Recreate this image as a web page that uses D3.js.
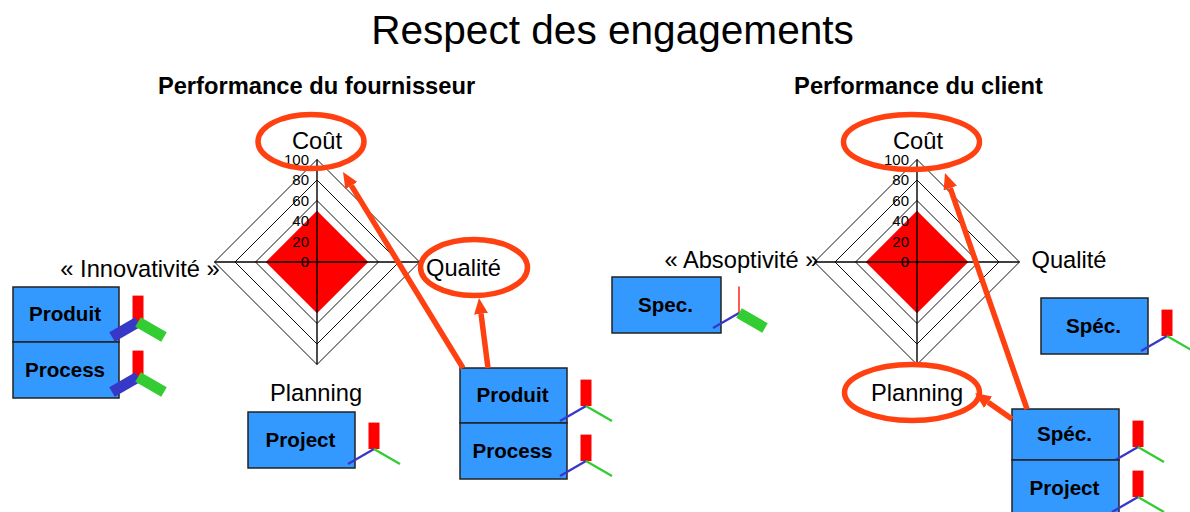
<!DOCTYPE html>
<html>
<head>
    <meta charset="utf-8">
    <title>Respect des engagements</title>
    <style>
        html, body { margin: 0; padding: 0; background: #fff; overflow: hidden; }
        text { font-family: "Liberation Sans", Arial, sans-serif; fill: #000; }
    </style>
    <script src="https://d3js.org/d3.v7.min.js"></script>
</head>
<body>
<svg id="chart" width="1190" height="512"></svg>
<script>
    // data
    var radarTicks = [0, 20, 40, 60, 80, 100];
    var radarAxes = ["Coût", "Qualité", "Planning", "Innovation"];
    var fournisseurValues = [50, 50, 50, 50];
    var clientValues = [50, 50, 50, 50];

    var boxNames = ["Produit", "Process", "Project", "Produit", "Process", "Spec.", "Spéc.", "Spéc.", "Project"];
    // gauge levels per box: red, blue, green
    var gaugeRed = [100, 100, 100, 100, 100, 5, 100, 100, 100];
    var gaugeBlue = [100, 100, 15, 15, 15, 15, 15, 15, 15];
    var gaugeGreen = [100, 100, 15, 15, 15, 100, 15, 15, 15];

    var orange = "#ff4010", boxBlue = "#3399ff";

    // layout
    var radarLayout = [
        {cx: 317, cy: 262, values: fournisseurValues},
        {cx: 917, cy: 262, values: clientValues}
    ];
    var boxLayout = [
        [13, 287, 119, 342, 138, 322],
        [13, 342, 119, 398, 138, 377],
        [248, 412, 355, 468, 374, 449],
        [460, 368, 567, 423, 586, 406],
        [460, 423, 567, 479, 586, 461],
        [612, 277, 721, 333, 739, 313],
        [1041, 298, 1148, 354, 1167, 336],
        [1012, 409, 1119, 460, 1138, 447],
        [1012, 460, 1119, 516, 1138, 497]
    ];
    var labelLayout = [
        ["« Innovativité »", 140, 277], ["Coût", 317, 149], ["Qualité", 463.5, 276], ["Planning", 316, 401],
        ["« Absoptivité »", 741.5, 268], ["Coût", 918, 149], ["Qualité", 1069, 268], ["Planning", 917, 401]
    ];
    var ellipseLayout = [
        [311, 141.5, 53, 27], [474, 267.5, 53.5, 28],
        [911.5, 142, 68, 27.5], [912, 392.5, 67.5, 28]
    ];
    var arrowLayout = [
        [463, 368, 343, 172], [488, 368, 479, 298],
        [1027, 409, 945, 173], [1012, 419, 975, 393]
    ];

    var svg = d3.select("#chart");

    svg.append("defs").append("marker")
        .attr("id", "head")
        .attr("viewBox", "0 -7 16 14")
        .attr("refX", 0)
        .attr("markerUnits", "userSpaceOnUse")
        .attr("markerWidth", 16)
        .attr("markerHeight", 14)
        .attr("orient", "auto")
        .append("path")
        .attr("d", "M0,-7L16,0L0,7Z")
        .attr("fill", orange);

    svg.append("text").attr("x", 612.5).attr("y", 44).attr("text-anchor", "middle")
        .attr("font-size", 40.6).text("Respect des engagements");
    svg.append("text").attr("x", 316.5).attr("y", 94).attr("text-anchor", "middle")
        .attr("font-size", 23.7).attr("font-weight", "bold").text("Performance du fournisseur");
    svg.append("text").attr("x", 918.5).attr("y", 94).attr("text-anchor", "middle")
        .attr("font-size", 23.7).attr("font-weight", "bold").text("Performance du client");

    // radar charts
    var r = d3.scaleLinear().domain([0, 100]).range([0, 102.5]);
    var radial = d3.lineRadial()
        .angle(function (d, i) { return i * Math.PI / 2; })
        .radius(function (d) { return r(d); })
        .curve(d3.curveLinearClosed);

    radarLayout.forEach(function (l) {
        var g = svg.append("g").attr("transform", "translate(" + l.cx + "," + l.cy + ")");

        g.selectAll(".ring").data(radarTicks.slice(1)).enter().append("path")
            .attr("class", "ring")
            .attr("d", function (d) { return radial(radarAxes.map(function () { return d; })); })
            .attr("fill", "none").attr("stroke", "#111").attr("stroke-width", 1);

        g.append("path").attr("d", radial(l.values)).attr("fill", "#ff0000");

        radarAxes.forEach(function (a, i) {
            var t = i * Math.PI / 2;
            g.append("line")
                .attr("x2", r(100) * Math.sin(t)).attr("y2", -r(100) * Math.cos(t))
                .attr("stroke", "#000").attr("stroke-width", 1.4);
        });

        var axis = d3.axisLeft(d3.scaleLinear().domain([0, 100]).range([0, -r(100)]))
            .tickValues(radarTicks).tickSize(0).tickPadding(8);
        var ag = g.append("g").call(axis);
        ag.select(".domain").remove();
        ag.selectAll("text")
            .style("font-family", '"Liberation Sans", Arial, sans-serif')
            .style("font-size", "15px").attr("fill", "#000");
    });

    // boxes with small 3 axes gauges
    var limb = d3.scaleLinear().domain([0, 100]).range([0, 30]);
    var weight = d3.scaleLinear().domain([0, 100]).range([0.8, 11]);

    boxNames.forEach(function (name, i) {
        var b = boxLayout[i];
        svg.append("rect")
            .attr("x", b[0]).attr("y", b[1]).attr("width", b[2] - b[0]).attr("height", b[3] - b[1])
            .attr("fill", boxBlue).attr("stroke", "#222").attr("stroke-width", 1.5);
        svg.append("text")
            .attr("x", (b[0] + b[2]) / 2 - 1).attr("y", (b[1] + b[3]) / 2 + 6.5)
            .attr("text-anchor", "middle").attr("font-size", 20.6).attr("font-weight", "bold").text(name);

        var limbs = [
            {v: gaugeRed[i], a: 0, c: "#ff0000"},
            {v: gaugeBlue[i], a: 240, c: "#3838c8"},
            {v: gaugeGreen[i], a: 120, c: "#33cc33"}
        ];
        limbs.forEach(function (d) {
            var t = d.a * Math.PI / 180, len = limb(d.a === 0 ? 88 : 100);
            svg.append("line")
                .attr("x1", b[4]).attr("y1", b[5])
                .attr("x2", b[4] + len * Math.sin(t)).attr("y2", b[5] - len * Math.cos(t))
                .attr("stroke", d.c).attr("stroke-width", weight(d.v));
        });
    });

    labelLayout.forEach(function (d) {
        svg.append("text").attr("x", d[1]).attr("y", d[2]).attr("text-anchor", "middle")
            .attr("font-size", 23.7).text(d[0]);
    });

    // orange annotations
    svg.selectAll(".ell").data(ellipseLayout).enter().append("ellipse")
        .attr("class", "ell")
        .attr("cx", function (d) { return d[0]; }).attr("cy", function (d) { return d[1]; })
        .attr("rx", function (d) { return d[2]; }).attr("ry", function (d) { return d[3]; })
        .attr("fill", "none").attr("stroke", orange).attr("stroke-width", 5.5);

    arrowLayout.forEach(function (d) {
        var dx = d[2] - d[0], dy = d[3] - d[1], len = Math.sqrt(dx * dx + dy * dy);
        svg.append("line")
            .attr("x1", d[0]).attr("y1", d[1])
            .attr("x2", d[2] - dx / len * 16).attr("y2", d[3] - dy / len * 16)
            .attr("stroke", orange).attr("stroke-width", 5.5)
            .attr("marker-end", "url(#head)");
    });
</script>
</body>
</html>
